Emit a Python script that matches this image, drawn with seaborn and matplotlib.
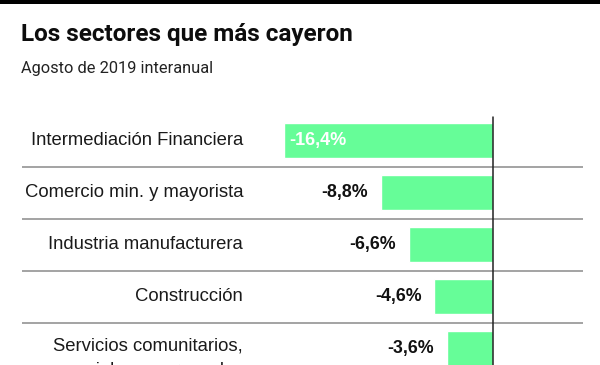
import matplotlib
matplotlib.use("Agg")
import matplotlib.pyplot as plt
import matplotlib.transforms as mtransforms
import seaborn as sns
import pandas as pd

# Data
sectores = [
    "Intermediación Financiera",
    "Comercio min. y mayorista",
    "Industria manufacturera",
    "Construcción",
    "Servicios comunitarios,\nsociales y personales",
]
variacion = [-16.4, -8.8, -6.6, -4.6, -3.6]
etiquetas = ["-16,4%", "-8,8%", "-6,6%", "-4,6%", "-3,6%"]

BAR_COLOR = "#66fd98"
TITLE_FONT = ["Roboto", "DejaVu Sans"]
BODY_FONT = ["Liberation Sans", "DejaVu Sans"]

sns.set_style("white")
plt.rcParams["font.family"] = BODY_FONT

df = pd.DataFrame({"sector": sectores, "valor": variacion})

fig = plt.figure(figsize=(6.0, 3.65), dpi=100)
W, H = 600, 365

# black band along the top
fig.add_artist(plt.Rectangle((0, 1 - 4 / H), 1, 4 / H, transform=fig.transFigure,
                             color="black", lw=0))

fig.text(21 / W, 1 - 35 / H, "Los sectores que más cayeron", family=TITLE_FONT,
         fontsize=17.5, fontweight="bold", va="center", ha="left", color="#0d0d0d")
fig.text(21 / W, 1 - 69 / H, "Agosto de 2019 interanual", family=TITLE_FONT,
         fontsize=11.8, va="center", ha="left", color="#222222")

# axes: 52 px per row, zero line at x=493 px
row_px = 52
top_px = 114.5
n = len(sectores)
ax_left, ax_right = 22, 583
ax = fig.add_axes([ax_left / W, 1 - (top_px + n * row_px) / H,
                   (ax_right - ax_left) / W, n * row_px / H])

px_per_unit = 12.75
xmin = -(493 - ax_left) / px_per_unit
xmax = (ax_right - 493) / px_per_unit

sns.barplot(data=df, x="valor", y="sector", color=BAR_COLOR, width=0.67,
            saturation=1, ax=ax, orient="h")
ax.set_xlim(xmin, xmax)
ax.set_ylim(n - 0.5, -0.5)
ax.set_axis_off()

for i in range(1, n):
    ax.axhline(i - 0.5, color="#8a8a8a", lw=1.1)
ax.plot([0, 0], [n - 0.5, -0.45], color="#222222", lw=1.1)

lbl_tr = mtransforms.blended_transform_factory(fig.transFigure, ax.transData)
for i, (sec, val, txt) in enumerate(zip(sectores, variacion, etiquetas)):
    ax.text(243 / W, i + (0.19 if "\n" in sec else 0), sec, transform=lbl_tr,
            ha="right", va="center", fontsize=13.3, color="#1a1a1a",
            linespacing=1.55)
    if i == 0:
        ax.text(val + 0.45, i, txt, ha="left", va="center", fontsize=13,
                fontweight="bold", color="white")
    else:
        ax.text(val - 1.0, i, txt, ha="right", va="center", fontsize=12.8,
                fontweight="bold", color="#111111")

fig.savefig("out.png", dpi=100)
